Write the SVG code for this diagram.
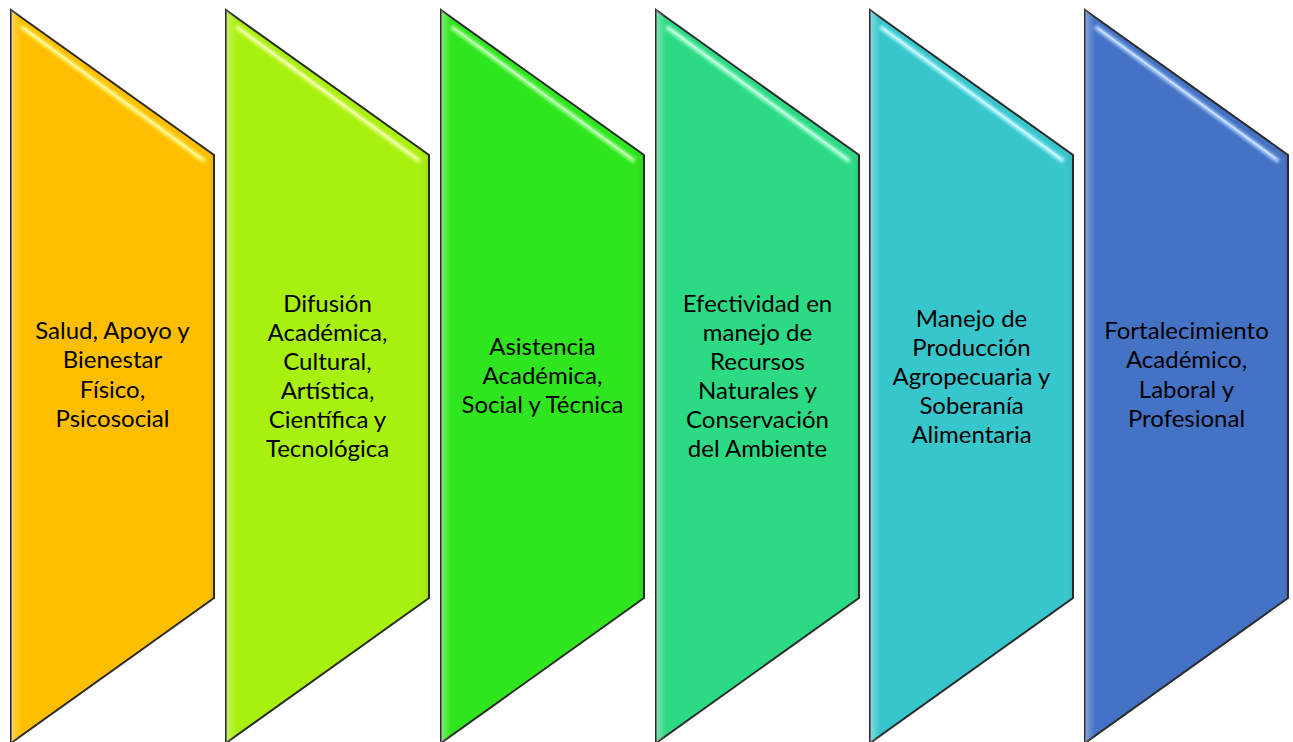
<svg xmlns="http://www.w3.org/2000/svg" width="1293" height="742" viewBox="0 0 1293 742">
<defs>
<filter id="blur" x="-10%" y="-10%" width="120%" height="120%"><feGaussianBlur stdDeviation="1.5"/></filter>
<linearGradient id="edgeL" x1="0" y1="0" x2="1" y2="0">
<stop offset="0" stop-color="#ffffff" stop-opacity="0.35"/>
<stop offset="0.05" stop-color="#ffffff" stop-opacity="0"/>
<stop offset="0.95" stop-color="#ffffff" stop-opacity="0"/>
<stop offset="1" stop-color="#000000" stop-opacity="0.08"/>
</linearGradient>
</defs>
<style>
.shape{stroke:#2b2b2b;stroke-width:2;stroke-linejoin:miter}
.edge{fill:url(#edgeL);stroke:none}
.hl{fill:none;stroke-width:5;stroke-linecap:round;filter:url(#blur)}
.hl2{fill:none;stroke:#ffffff;stroke-opacity:0.55;stroke-width:1.5;stroke-linecap:round}
text{font-family:"Lato","Liberation Sans",sans-serif;font-size:24px;fill:#000;text-anchor:middle}
</style>
<g id="node1" transform="translate(11,10)">
<polygon class="shape" fill="#FFBF00" points="0,0 203,145 203,588 0,733"/>
<polygon class="edge" points="0,0 203,145 203,588 0,733"/>
<line class="hl" stroke="#FFF36A" x1="12" y1="18" x2="192" y2="150"/>
<line class="hl2" x1="14" y1="19" x2="190" y2="148"/>
<text x="101.5" y="329">Salud, Apoyo y</text>
<text x="101.5" y="358.3">Bienestar</text>
<text x="101.5" y="387.6">Físico,</text>
<text x="101.5" y="416.9">Psicosocial</text>
</g>
<g id="node2" transform="translate(226,10)">
<polygon class="shape" fill="#A8F00F" points="0,0 203,145 203,588 0,733"/>
<polygon class="edge" points="0,0 203,145 203,588 0,733"/>
<line class="hl" stroke="#E6FF80" x1="12" y1="18" x2="192" y2="150"/>
<line class="hl2" x1="14" y1="19" x2="190" y2="148"/>
<text x="101.5" y="302">Difusión</text>
<text x="101.5" y="331">Académica,</text>
<text x="101.5" y="360">Cultural,</text>
<text x="101.5" y="389">Artística,</text>
<text x="101.5" y="418">Científica y</text>
<text x="101.5" y="447">Tecnológica</text>
</g>
<g id="node3" transform="translate(441,10)">
<polygon class="shape" fill="#2EE51E" points="0,0 203,145 203,588 0,733"/>
<polygon class="edge" points="0,0 203,145 203,588 0,733"/>
<line class="hl" stroke="#A0FF90" x1="12" y1="18" x2="192" y2="150"/>
<line class="hl2" x1="14" y1="19" x2="190" y2="148"/>
<text x="101.5" y="345">Asistencia</text>
<text x="101.5" y="374">Académica,</text>
<text x="101.5" y="403">Social y Técnica</text>
</g>
<g id="node4" transform="translate(656,10)">
<polygon class="shape" fill="#2DDA84" points="0,0 203,145 203,588 0,733"/>
<polygon class="edge" points="0,0 203,145 203,588 0,733"/>
<line class="hl" stroke="#A0FFD0" x1="12" y1="18" x2="192" y2="150"/>
<line class="hl2" x1="14" y1="19" x2="190" y2="148"/>
<text x="101.5" y="302">Efectividad en</text>
<text x="101.5" y="331">manejo de</text>
<text x="101.5" y="360">Recursos</text>
<text x="101.5" y="389">Naturales y</text>
<text x="101.5" y="418">Conservación</text>
<text x="101.5" y="447">del Ambiente</text>
</g>
<g id="node5" transform="translate(870,10)">
<polygon class="shape" fill="#37C6CC" points="0,0 203,145 203,588 0,733"/>
<polygon class="edge" points="0,0 203,145 203,588 0,733"/>
<line class="hl" stroke="#A8F4FF" x1="12" y1="18" x2="192" y2="150"/>
<line class="hl2" x1="14" y1="19" x2="190" y2="148"/>
<text x="101.5" y="316.5">Manejo de</text>
<text x="101.5" y="345.5">Producción</text>
<text x="101.5" y="374.5">Agropecuaria y</text>
<text x="101.5" y="403.5">Soberanía</text>
<text x="101.5" y="432.5">Alimentaria</text>
</g>
<g id="node6" transform="translate(1085,10)">
<polygon class="shape" fill="#4472C4" points="0,0 203,145 203,588 0,733"/>
<polygon class="edge" points="0,0 203,145 203,588 0,733"/>
<line class="hl" stroke="#A8CCFF" x1="12" y1="18" x2="192" y2="150"/>
<line class="hl2" x1="14" y1="19" x2="190" y2="148"/>
<text x="101.5" y="329">Fortalecimiento</text>
<text x="101.5" y="358.3">Académico,</text>
<text x="101.5" y="387.6">Laboral y</text>
<text x="101.5" y="416.9">Profesional</text>
</g>
<g id="connectors"></g>
</svg>
